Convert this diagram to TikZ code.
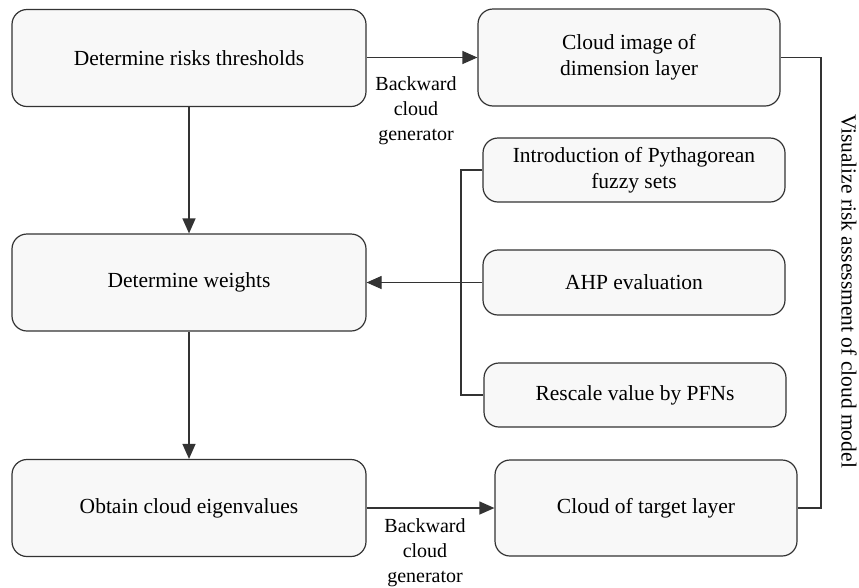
\documentclass[tikz,border=0pt]{standalone}
\usepackage{fontspec}
\setmainfont{Liberation Serif}
\usetikzlibrary{arrows.meta}
\definecolor{boxfill}{HTML}{F8F8F8}
\definecolor{linecol}{HTML}{333333}
\begin{document}
\begin{tikzpicture}[x=1pt,y=-1pt,
  box/.style={draw=linecol, fill=boxfill, line width=1.2pt, rounded corners=15pt,
    inner sep=0pt, align=center, font=\fontsize{21.5}{26}\selectfont},
  bigbox/.style={box, minimum width=354pt, minimum height=97pt},
  sidebox/.style={box, minimum width=302pt},
  conn/.style={draw=linecol, line width=1.2pt},
  arr/.style={conn, -{Triangle[length=15pt,width=13pt]}},
  lbl/.style={inner sep=0pt, align=center, font=\fontsize{20}{25}\selectfont, anchor=north}
]
\useasboundingbox (0,0) rectangle (859,587);
% left column
\node[bigbox] (b1) at (189,58) {Determine risks thresholds};
\node[bigbox] (b2) at (189,282.5) {Determine weights};
\node[bigbox] (b3) at (189,508) {Obtain cloud eigenvalues};
% right column
\node[sidebox, minimum height=97pt] (c1) at (629,57.5) {Cloud image of\\dimension layer};
\node[sidebox, minimum height=64pt] (p1) at (634,170) {Introduction of Pythagorean\\fuzzy sets};
\node[sidebox, minimum height=65pt] (p2) at (634,282.5) {AHP evaluation};
\node[sidebox, minimum height=64pt] (p3) at (635,395) {Rescale value by PFNs};
\node[sidebox, minimum height=96pt] (c2) at (646,508) {Cloud of target layer};
% labels
\node[lbl] (l1) at (416,76) {Backward\\cloud\\generator};
\node[lbl] (l2) at (425,518) {Backward\\cloud\\generator};
\node[rotate=-90, inner sep=0pt, font=\fontsize{21.5}{26}\selectfont] (vis) at (849,291) {Visualize risk assessment of cloud model};
% connectors
\draw[arr] (b1.south) -- (b2.north);
\draw[arr] (b2.south) -- (b3.north);
\draw[arr] (b1.east |- c1.west) -- (c1.west);
\draw[arr] (b3.east) -- (c2.west);
\draw[arr] (p2.west) -- (b2.east |- p2.west);
\coordinate (k1) at (461,170);
\coordinate (k2) at (461,395);
\draw[conn] (p1.west) -- (k1) -- (k2) -- (p3.west);
\coordinate (r1) at (821,57.5);
\coordinate (r2) at (821,508);
\draw[conn] (c1.east) -- (r1) -- (r2) -- (c2.east);
\end{tikzpicture}
\end{document}
